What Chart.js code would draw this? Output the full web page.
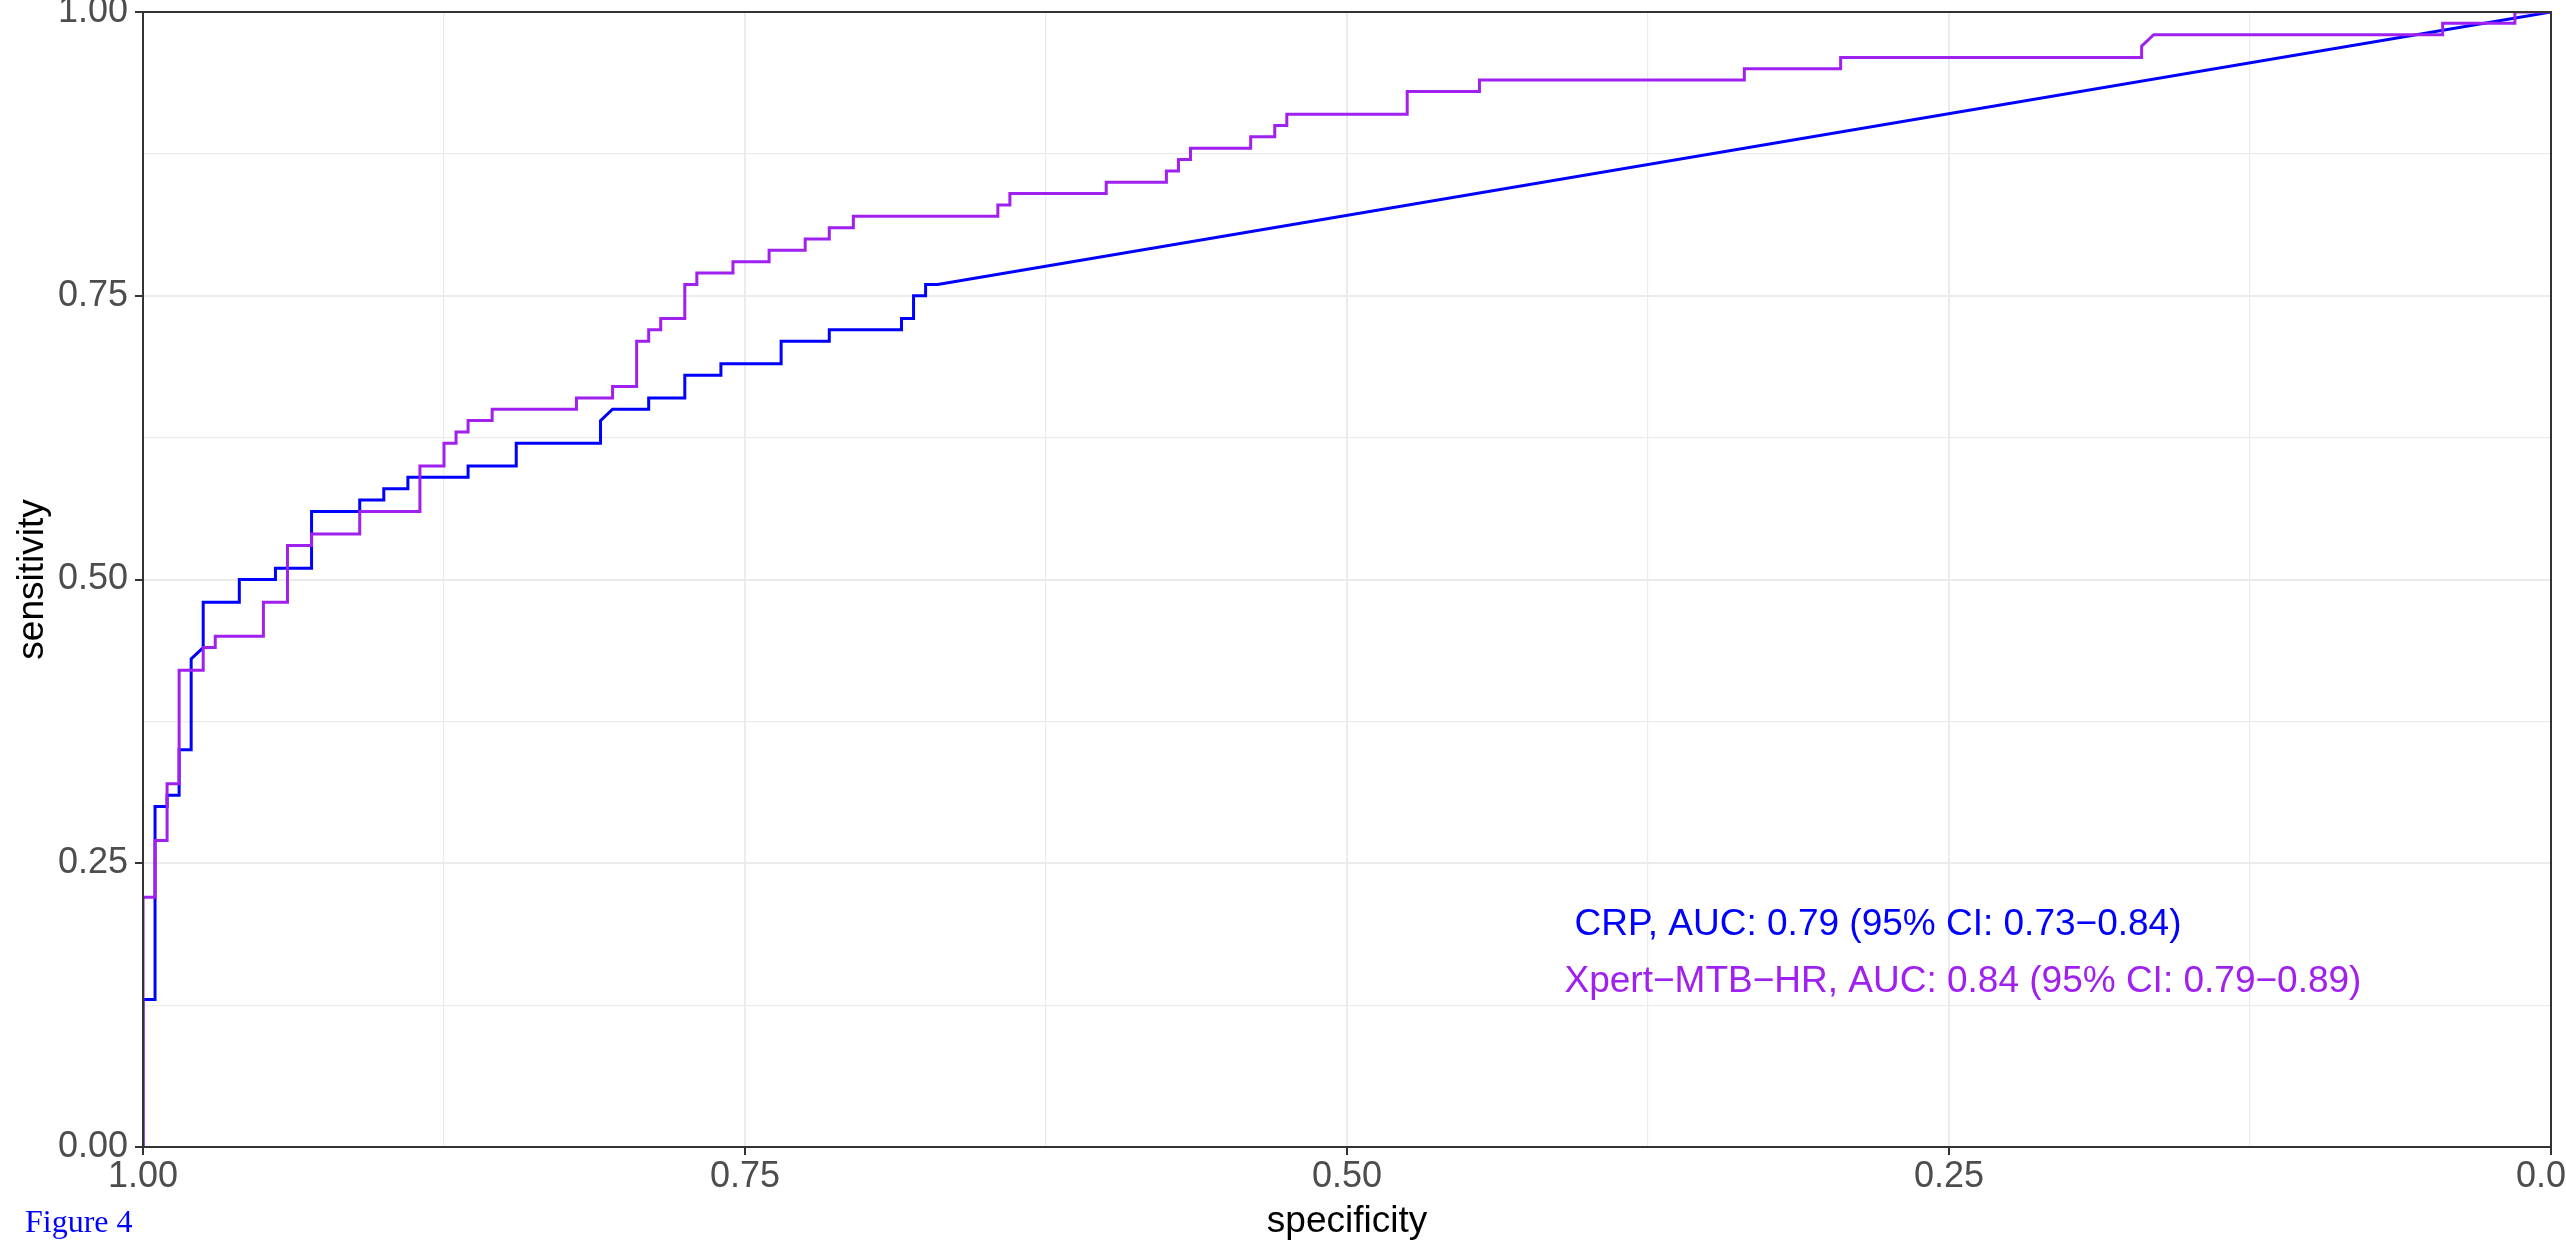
<!DOCTYPE html>
<html>
<head>
<meta charset="utf-8">
<script src="https://cdn.jsdelivr.net/npm/chart.js@4.4.1/dist/chart.umd.min.js"></script>
<style>
  html, body { margin: 0; padding: 0; background: #fff; }
  #wrap { width: 2566px; height: 1244px; }
</style>
</head>
<body>
<div id="wrap"><canvas id="roc" width="2566" height="1244"></canvas></div>
<script>
// ROC vertices (specificity, sensitivity)
const crpSpec = [1, 1, 0.995, 0.995, 0.99, 0.99, 0.985, 0.985, 0.98, 0.98, 0.975, 0.975, 0.96, 0.96, 0.945, 0.945,
  0.93, 0.93, 0.91, 0.91, 0.9, 0.9, 0.89, 0.89, 0.865, 0.865, 0.845, 0.845, 0.81, 0.81, 0.805, 0.79, 0.79,
  0.775, 0.775, 0.76, 0.76, 0.735, 0.735, 0.715, 0.715, 0.685, 0.685, 0.68, 0.68, 0.675, 0.675, 0.67, 0];
const crpSens = [0, 0.13, 0.13, 0.30, 0.30, 0.31, 0.31, 0.35, 0.35, 0.43, 0.44, 0.48, 0.48, 0.50, 0.50, 0.51,
  0.51, 0.56, 0.56, 0.57, 0.57, 0.58, 0.58, 0.59, 0.59, 0.60, 0.60, 0.62, 0.62, 0.64, 0.65, 0.65, 0.66,
  0.66, 0.68, 0.68, 0.69, 0.69, 0.71, 0.71, 0.72, 0.72, 0.73, 0.73, 0.75, 0.75, 0.76, 0.76, 1];

const xpertSpec = [1, 1, 0.995, 0.995, 0.99, 0.99, 0.985, 0.985, 0.975, 0.975, 0.97, 0.97, 0.95, 0.95, 0.94, 0.94,
  0.93, 0.93, 0.91, 0.91, 0.885, 0.885, 0.875, 0.875, 0.87, 0.87, 0.865, 0.865, 0.855, 0.855, 0.82, 0.82,
  0.805, 0.805, 0.795, 0.795, 0.79, 0.79, 0.785, 0.785, 0.775, 0.775, 0.77, 0.77, 0.755, 0.755, 0.74, 0.74,
  0.725, 0.725, 0.715, 0.715, 0.705, 0.705, 0.645, 0.645, 0.64, 0.64, 0.6, 0.6, 0.575, 0.575, 0.57, 0.57,
  0.565, 0.565, 0.54, 0.54, 0.53, 0.53, 0.525, 0.525, 0.475, 0.475, 0.445, 0.445, 0.335, 0.335, 0.295, 0.295,
  0.17, 0.17, 0.165, 0.045, 0.045, 0.015, 0.015, 0];
const xpertSens = [0, 0.22, 0.22, 0.27, 0.27, 0.32, 0.32, 0.42, 0.42, 0.44, 0.44, 0.45, 0.45, 0.48, 0.48, 0.53,
  0.53, 0.54, 0.54, 0.56, 0.56, 0.60, 0.60, 0.62, 0.62, 0.63, 0.63, 0.64, 0.64, 0.65, 0.65, 0.66,
  0.66, 0.67, 0.67, 0.71, 0.71, 0.72, 0.72, 0.73, 0.73, 0.76, 0.76, 0.77, 0.77, 0.78, 0.78, 0.79,
  0.79, 0.80, 0.80, 0.81, 0.81, 0.82, 0.82, 0.83, 0.83, 0.84, 0.84, 0.85, 0.85, 0.86, 0.86, 0.87,
  0.87, 0.88, 0.88, 0.89, 0.89, 0.90, 0.90, 0.91, 0.91, 0.93, 0.93, 0.94, 0.94, 0.95, 0.95, 0.96,
  0.96, 0.97, 0.98, 0.98, 0.99, 0.99, 1, 1];

const seriesNames = ['CRP', 'Xpert−MTB−HR'];
const seriesColors = ['#0000FF', '#A020F0'];
const aucLabels = ['CRP, AUC: 0.79 (95% CI: 0.73−0.84)', 'Xpert−MTB−HR, AUC: 0.84 (95% CI: 0.79−0.89)'];
const aucLabelSpec = [0.2795, 0.2442];
const aucLabelSens = [0.187, 0.137];

const majorTicks = [0, 0.25, 0.5, 0.75, 1];
const majorTickLabels = ['0.00', '0.25', '0.50', '0.75', '1.00'];
const minorTicks = [0.125, 0.375, 0.625, 0.875];

const toPoints = (xs, ys) => xs.map((v, i) => ({ x: v, y: ys[i] }));
const isMajor = v => majorTicks.some(m => Math.abs(m - v) < 1e-9);
const tickLabel = v => {
    const i = majorTicks.findIndex(m => Math.abs(m - v) < 1e-9);
    return i >= 0 ? majorTickLabels[i] : '';
};

function axisOptions(titleText, isX) {
    return {
        type: 'linear',
        min: 0, max: 1,
        reverse: isX,
        afterBuildTicks: (scale) => {
            scale.ticks = majorTicks.concat(minorTicks).sort((a, b) => a - b).map(v => ({ value: v }));
        },
        afterFit: (scale) => {
            if (isX) { scale.height = 97; scale.paddingLeft = 0; scale.paddingRight = 0; }
            else { scale.width = 143; scale.paddingTop = 0; scale.paddingBottom = 0; }
        },
        grid: {
            color: '#EBEBEB',
            lineWidth: (c) => isMajor(c.tick.value) ? 2 : 1.2,
            tickColor: (c) => isMajor(c.tick.value) ? '#333333' : 'rgba(0,0,0,0)',
            tickWidth: 2,
            tickLength: 8
        },
        border: { display: false },
        ticks: {
            autoSkip: false, maxRotation: 0,
            color: '#4D4D4D',
            padding: isX ? 0 : 7,
            font: { family: '"Liberation Sans", Arial, sans-serif', size: 36 },
            callback: (value) => tickLabel(value)
        },
        title: {
            display: true, text: titleText, color: '#000000',
            padding: isX ? { top: 0, bottom: 0 } : { top: 11, bottom: 0 },
            font: { family: '"Liberation Sans", Arial, sans-serif', size: 37 }
        }
    };
}

const textLayer = {
    id: 'textLayer',
    afterDatasetsDraw(chart) {
        const { ctx, chartArea, scales: { x, y } } = chart;
        ctx.save();
        ctx.strokeStyle = '#333333';
        ctx.lineWidth = 2;
        ctx.strokeRect(chartArea.left, chartArea.top, chartArea.right - chartArea.left, chartArea.bottom - chartArea.top);
        ctx.font = '37px "Liberation Sans", Arial, sans-serif';
        ctx.textAlign = 'center';
        ctx.textBaseline = 'alphabetic';
        aucLabels.forEach((t, i) => {
            ctx.fillStyle = seriesColors[i];
            ctx.fillText(t, x.getPixelForValue(aucLabelSpec[i]), y.getPixelForValue(aucLabelSens[i]));
        });
        ctx.restore();
    },
    afterDraw(chart) {
        const ctx = chart.ctx;
        ctx.save();
        ctx.font = '32px "Liberation Serif", "Times New Roman", serif';
        ctx.fillStyle = '#0000FF';
        ctx.textAlign = 'left';
        ctx.textBaseline = 'alphabetic';
        ctx.fillText('Figure 4', 25, 1232);
        ctx.restore();
    }
};

new Chart(document.getElementById('roc'), {
    type: 'scatter',
    data: {
        datasets: [
            { label: seriesNames[0], data: toPoints(crpSpec, crpSens), borderColor: seriesColors[0], order: 2 },
            { label: seriesNames[1], data: toPoints(xpertSpec, xpertSens), borderColor: seriesColors[1], order: 1 }
        ]
    },
    options: {
        responsive: false,
        devicePixelRatio: 1,
        animation: false,
        layout: { padding: { top: 12, right: 15, left: 0, bottom: 0 } },
        elements: {
            point: { radius: 0, hoverRadius: 0 },
            line: { tension: 0, borderWidth: 3, fill: false }
        },
        datasets: { scatter: { showLine: true } },
        scales: {
            x: axisOptions('specificity', true),
            y: axisOptions('sensitivity', false)
        },
        plugins: { legend: { display: false }, tooltip: { enabled: false } }
    },
    plugins: [textLayer]
});
</script>
</body>
</html>
